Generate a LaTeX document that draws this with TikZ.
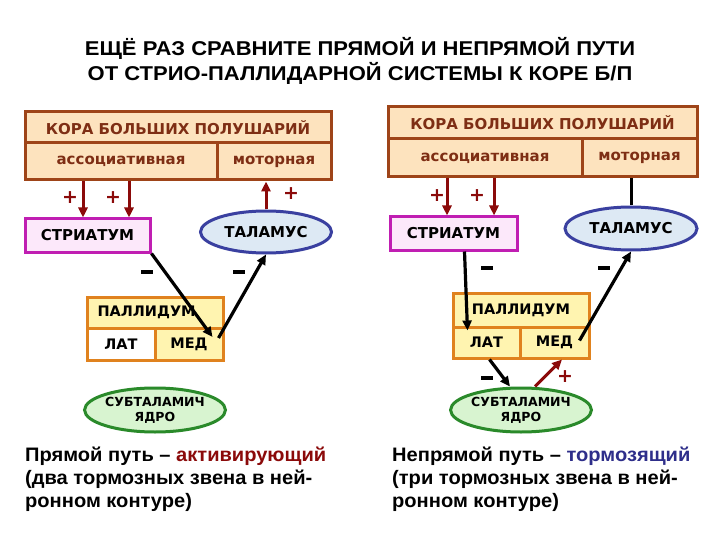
\documentclass[tikz,border=0pt]{standalone}
\usepackage{fontspec}
\setmainfont{Liberation Sans}
\newfontfamily\boxfont{DejaVu Sans}
\newfontfamily\titlefont[FakeStretch=1.1]{Liberation Sans}
\newfontfamily\capfont[FakeStretch=1.03]{Liberation Sans}
\usepackage{xcolor}
\definecolor{KoraBrown}{HTML}{9E4418}
\definecolor{KoraFill}{HTML}{FDE3BE}
\definecolor{KoraText}{HTML}{7E2E14}
\definecolor{StriMagenta}{HTML}{C01EB2}
\definecolor{StriFill}{HTML}{FCE8FA}
\definecolor{ThalBlue}{HTML}{3A40A0}
\definecolor{ThalFill}{HTML}{DDE9F4}
\definecolor{PallOrange}{HTML}{E0821E}
\definecolor{PallFill}{HTML}{FFF4B0}
\definecolor{SubGreen}{HTML}{2A8A2A}
\definecolor{SubFill}{HTML}{D8F4D0}
\definecolor{ExcRed}{HTML}{8B0A0A}
\definecolor{InhBlue}{HTML}{2E2E8A}
\usetikzlibrary{arrows.meta, shapes.geometric, calc}
\tikzstyle{kora} = [rectangle, draw=KoraBrown, fill=KoraFill, text=KoraText, line width=3pt, inner sep=0pt, font=\boxfont\bfseries\fontsize{15}{15}\selectfont]
\tikzstyle{stri} = [rectangle, draw=StriMagenta, fill=StriFill, line width=3pt, inner sep=0pt, minimum width=125pt, minimum height=33pt, font=\boxfont\bfseries\fontsize{15}{15}\selectfont]
\tikzstyle{thal} = [ellipse, draw=ThalBlue, fill=ThalFill, line width=3pt, inner sep=0pt, minimum width=131pt, minimum height=42pt, font=\boxfont\bfseries\fontsize{15}{15}\selectfont]
\tikzstyle{pall} = [rectangle, draw=PallOrange, fill=PallFill, line width=3pt, inner sep=0pt, font=\boxfont\bfseries\fontsize{14.5}{14.5}\selectfont]
\tikzstyle{sub} = [ellipse, draw=SubGreen, fill=SubFill, line width=3pt, inner sep=0pt, minimum width=137pt, minimum height=44pt, align=center, font=\boxfont\bfseries\fontsize{12.5}{15}\selectfont]
\tikzstyle{arrow} = [line width=3.2pt, -{Triangle[length=10pt,width=9pt]}, color=black]
\tikzstyle{redarrow} = [line width=3pt, -{Triangle[length=10pt,width=9pt]}, color=ExcRed]
\tikzstyle{plus} = [text=ExcRed, font=\boxfont\bfseries\fontsize{19}{19}\selectfont]
\tikzstyle{minus} = [inner sep=0pt]
\tikzstyle{caption} = [anchor=north west, align=left, inner sep=0pt, font=\capfont\bfseries\fontsize{19.5}{23}\selectfont]

\begin{document}
\begin{tikzpicture}[x=1pt, y=-1pt]
    \useasboundingbox (0,0) rectangle (720,540);
    \fill[white] (0,0) rectangle (720,540);

    % Title
    \node[align=center, font=\titlefont\bfseries\fontsize{20}{25}\selectfont] (title) at (360,61)
        {ЕЩЁ РАЗ СРАВНИТЕ ПРЯМОЙ И НЕПРЯМОЙ ПУТИ\\ОТ СТРИО-ПАЛЛИДАРНОЙ СИСТЕМЫ К КОРЕ Б/П};

    % Left: direct path
    \node[kora, minimum width=306pt, minimum height=31pt] (koraL) at (178,127.5) {КОРА БОЛЬШИХ ПОЛУШАРИЙ};
    \node[kora, minimum width=192pt, minimum height=37pt] (assocL) at (121,161.5) {ассоциативная};
    \node[kora, minimum width=114pt, minimum height=37pt] (motorL) at (274,161.5) {моторная};
    \node[stri] (striL) at (87.5,235.5) {СТРИАТУМ};
    \node[thal] (thalL) at (266,232) {ТАЛАМУС};
    \node[pall, minimum width=136pt, minimum height=31pt, text width=115pt, align=left] (pallL) at (155,312.5) {ПАЛЛИДУМ};
    \node[pall, fill=white, minimum width=68pt, minimum height=32pt] (latL) at (121,344) {ЛАТ};
    \node[pall, minimum width=68pt, minimum height=32pt] (medL) at (189,344) {МЕД};
    \node[sub] (subL) at (155,410) {СУБТАЛАМИЧ\\ЯДРО};

    \draw[redarrow] (assocL.south -| 83,0) -- (striL.north -| 83,0);
    \draw[redarrow] (assocL.south -| 129,0) -- (striL.north -| 129,0);
    \draw[redarrow] (thalL.north) -- (motorL.south -| thalL.north);
    \draw[arrow] (striL.south east) -- ($(medL.east)+(-12,-7)$);
    \draw[arrow] ($(medL.east)+(-6,-6)$) -- (thalL.south);

    \node[plus] (pL1) at (70,198) {+};
    \node[plus] (pL2) at (113,198) {+};
    \node[plus] (pL3) at (291,194) {+};
    \node[minus] (mL1) at (147,272) {\rule{12pt}{3.5pt}};
    \node[minus] (mL2) at (239,272) {\rule{12pt}{3.5pt}};

    \node[caption] (capL) at (25,447)
        {Прямой путь – \textcolor{ExcRed}{активирующий}\\(два тормозных звена в ней-\\ронном контуре)};

    % Right: indirect path
    \node[kora, minimum width=309pt, minimum height=32pt] (koraR) at (542.5,123) {КОРА БОЛЬШИХ ПОЛУШАРИЙ};
    \node[kora, minimum width=194pt, minimum height=38pt] (assocR) at (485,158) {ассоциативная};
    \node[kora, minimum width=115pt, minimum height=38pt] (motorR) at (639.5,158) {моторная};
    \node[stri, minimum width=127pt] (striR) at (453.5,233.5) {СТРИАТУМ};
    \node[thal, minimum width=132pt, minimum height=43pt] (thalR) at (631,228.5) {ТАЛАМУС};
    \node[pall, minimum width=136pt, minimum height=34pt] (pallR) at (521,310) {ПАЛЛИДУМ};
    \node[pall, minimum width=67pt, minimum height=31pt] (latR) at (486.5,342.5) {ЛАТ};
    \node[pall, minimum width=69pt, minimum height=31pt] (medR) at (554.5,342.5) {МЕД};
    \node[sub, minimum width=138pt] (subR) at (521,410) {СУБТАЛАМИЧ\\ЯДРО};

    \draw[redarrow] (assocR.south -| 447,0) -- (striR.north -| 447,0);
    \draw[redarrow] (assocR.south -| 494,0) -- (striR.north -| 494,0);
    \draw[line width=3pt] (motorR.south -| thalR.north) -- (thalR.north);
    \draw[arrow] ($(striR.south)+(11,0)$) -- ($(latR.north)+(-19,5)$);
    \draw[arrow] ($(medR.east)+(-11,-2)$) -- (thalR.south);
    \draw[arrow] ($(latR.south)+(3,0)$) -- ($(subR.north)+(-11,0)$);
    \draw[redarrow] ($(subR.north)+(14,0)$) -- ($(medR.south)+(7.5,0)$);

    \node[plus] (pR1) at (437,196) {+};
    \node[plus] (pR2) at (477,196) {+};
    \node[plus] (pR3) at (565,377) {+};
    \node[minus] (mR1) at (487,268) {\rule{12pt}{3.5pt}};
    \node[minus] (mR2) at (604,268) {\rule{12pt}{3.5pt}};
    \node[minus] (mR3) at (487,378) {\rule{12pt}{3.5pt}};

    \node[caption] (capR) at (392,447)
        {Непрямой путь – \textcolor{InhBlue}{тормозящий}\\(три тормозных звена в ней-\\ронном контуре)};
\end{tikzpicture}
\end{document}
